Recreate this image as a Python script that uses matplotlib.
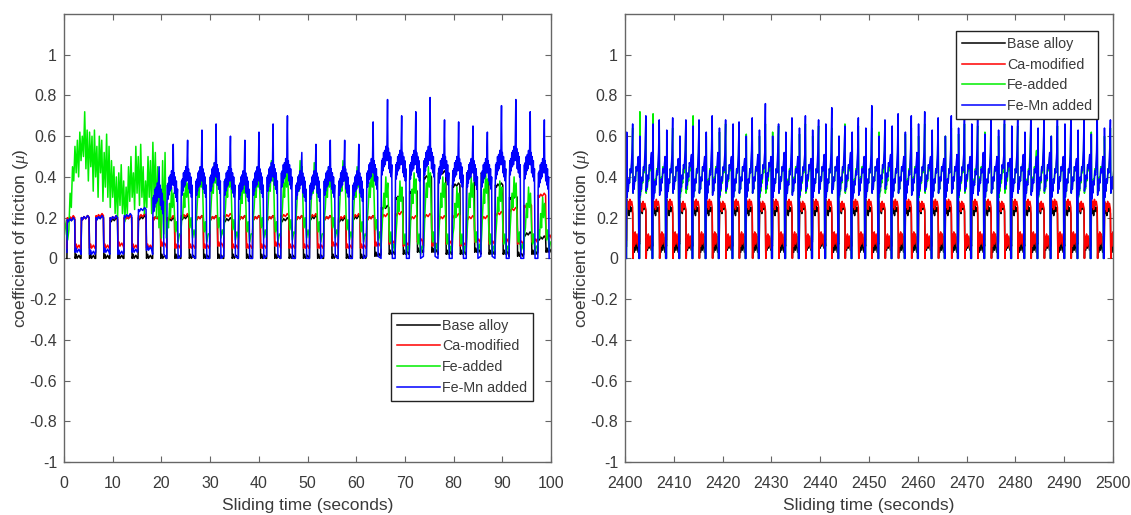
import numpy as np
import matplotlib
matplotlib.use("Agg")
import matplotlib.pyplot as plt

plt.rcParams['font.family'] = ['Liberation Sans', 'DejaVu Sans']
plt.rcParams['mathtext.fontset'] = 'custom'
plt.rcParams['mathtext.it'] = 'Liberation Serif:italic'

# ---------------- data ----------------
LABELS = ["Base alloy", "Ca-modified", "Fe-added", "Fe-Mn added"]
COLORS = ["#000000", "#ff0000", "#00ee00", "#0000ff"]

# Left panel (0-100 s): start time of each sliding cycle
L_STARTS = [0.6, 3.5, 6.5, 9.4, 12.3, 15.2, 18.2, 21.1, 24.0, 27.0, 29.9, 32.8,
            35.8, 38.7, 41.6, 44.5, 47.5, 50.4, 53.3, 56.3, 59.2, 62.1, 65.1,
            68.0, 70.9, 73.8, 76.8, 79.7, 82.6, 85.6, 88.5, 91.4, 94.4, 97.3, 100.2]

# Base alloy (left): per-cycle low / high levels
L_BASE_LO = [0.0]*21 + [0.01, 0.02, 0.02, 0.03, 0.03, 0.02, 0.02, 0.03, 0.02, 0.02, 0.01, 0.02, 0.03]
L_BASE_HI = [0.19, 0.2, 0.2, 0.19, 0.2, 0.2, 0.2, 0.19, 0.2, 0.2, 0.2, 0.19, 0.2, 0.2, 0.2,
             0.19, 0.2, 0.2, 0.2, 0.19, 0.2, 0.2, 0.25, 0.3, 0.33, 0.4, 0.42, 0.36, 0.42,
             0.42, 0.36, 0.3, 0.12, 0.1]
# Ca-modified (left)
L_CA_LO = [0.05, 0.05, 0.05, 0.06, 0.05, 0.05, 0.06, 0.05, 0.05, 0.05, 0.06, 0.05, 0.05,
           0.05, 0.06, 0.05, 0.05, 0.05, 0.06, 0.05, 0.05, 0.06, 0.07, 0.06, 0.08, 0.06,
           0.07, 0.06, 0.08, 0.07, 0.08, 0.07, 0.08, 0.1]
L_CA_HI = [0.2, 0.2, 0.21, 0.2, 0.2, 0.21, 0.2, 0.2, 0.21, 0.2, 0.2, 0.21, 0.2, 0.2, 0.2,
           0.21, 0.2, 0.21, 0.2, 0.2, 0.21, 0.2, 0.21, 0.22, 0.2, 0.21, 0.2, 0.21, 0.2,
           0.2, 0.22, 0.24, 0.26, 0.31]
# Fe-added (left): first 21 s read point by point (every 0.25 s), then per cycle
L_FE_EARLY = [0.20, 0.17, 0.12, 0.09, 0.14, 0.32, 0.25, 0.45, 0.38, 0.55, 0.42, 0.58,
              0.40, 0.62, 0.48, 0.60, 0.50, 0.72, 0.44, 0.63, 0.38, 0.62, 0.45, 0.60,
              0.33, 0.63, 0.40, 0.55, 0.30, 0.60, 0.42, 0.58, 0.28, 0.52, 0.35, 0.61,
              0.30, 0.55, 0.25, 0.48, 0.30, 0.45, 0.22, 0.40, 0.20, 0.42, 0.26, 0.46,
              0.22, 0.38, 0.18, 0.35, 0.22, 0.45, 0.28, 0.50, 0.30, 0.42, 0.24, 0.55,
              0.32, 0.50, 0.26, 0.56, 0.30, 0.45, 0.22, 0.38, 0.25, 0.50, 0.30, 0.48,
              0.22, 0.57, 0.30, 0.52, 0.20, 0.45, 0.15, 0.35, 0.10, 0.48, 0.12, 0.52, 0.10]
L_FE_LO = [0.08, 0.1, 0.08, 0.1, 0.09, 0.08, 0.1, 0.08, 0.09, 0.1, 0.08, 0.1, 0.09, 0.08,
           0.09, 0.03, 0.02, 0.02, 0.03, 0.02, 0.02, 0.03, 0.02, 0.02, 0.03, 0.02, 0.04]
L_FE_HI = [0.35, 0.4, 0.45, 0.47, 0.45, 0.42, 0.45, 0.48, 0.45, 0.48, 0.47, 0.45, 0.48,
           0.45, 0.45, 0.4, 0.38, 0.42, 0.45, 0.4, 0.35, 0.4, 0.42, 0.38, 0.4, 0.35, 0.3]
# Fe-Mn added (left): 6 square cycles, then saw-tooth cycles
L_FEMN_SQ_LO = [0.03, 0.02, 0.03, 0.02, 0.03, 0.04]
L_FEMN_SQ_HI = [0.19, 0.2, 0.2, 0.2, 0.21, 0.24]
L_FEMN_LO = [0.02, 0.0, 0.01, 0.0, 0.0, 0.01, 0.0, 0.0, 0.01, 0.0, 0.0, 0.0, 0.01, 0.0,
             0.0, 0.01, 0.0, 0.0, 0.0, 0.01, 0.0, 0.0, 0.0, 0.01, 0.0, 0.0, 0.0, 0.0]
L_FEMN_MID = [0.32, 0.38, 0.4, 0.4, 0.42, 0.4, 0.38, 0.4, 0.42, 0.44, 0.38, 0.38, 0.4, 0.4,
              0.38, 0.44, 0.5, 0.48, 0.48, 0.5, 0.46, 0.45, 0.44, 0.44, 0.48, 0.5, 0.48, 0.44]
L_FEMN_PK = [0.45, 0.56, 0.58, 0.63, 0.66, 0.6, 0.58, 0.62, 0.66, 0.7, 0.52, 0.56, 0.58,
             0.58, 0.56, 0.67, 0.78, 0.7, 0.72, 0.79, 0.68, 0.67, 0.65, 0.62, 0.75, 0.78,
             0.72, 0.68]

# Right panel (2400-2500 s)
R_STARTS = [2400.3, 2403.0, 2405.7, 2408.5, 2411.2, 2413.9, 2416.6, 2419.3, 2422.1,
            2424.8, 2427.5, 2430.2, 2432.9, 2435.7, 2438.4, 2441.1, 2443.8, 2446.5,
            2449.3, 2452.0, 2454.7, 2457.4, 2460.1, 2462.9, 2465.6, 2468.3, 2471.0,
            2473.7, 2476.5, 2479.2, 2481.9, 2484.6, 2487.3, 2490.1, 2492.8, 2495.5,
            2498.2, 2500.9]
R_BASE_LO = [0.06, 0.07, 0.06, 0.06, 0.07, 0.06, 0.06, 0.07, 0.06, 0.06, 0.07, 0.06, 0.06,
             0.07, 0.08, 0.06, 0.07, 0.06, 0.06, 0.07, 0.06, 0.06, 0.07, 0.06, 0.06, 0.07,
             0.06, 0.06, 0.07, 0.06, 0.06, 0.07, 0.06, 0.06, 0.07, 0.06, 0.06]
R_BASE_HI = [0.24, 0.25, 0.24, 0.24, 0.25, 0.24, 0.24, 0.25, 0.24, 0.24, 0.25, 0.24, 0.24,
             0.25, 0.24, 0.24, 0.25, 0.24, 0.24, 0.25, 0.24, 0.24, 0.25, 0.24, 0.24, 0.25,
             0.24, 0.24, 0.25, 0.24, 0.24, 0.25, 0.24, 0.24, 0.25, 0.24, 0.24]
R_CA_LO = [0.09, 0.08, 0.09, 0.09, 0.08, 0.09, 0.09, 0.08, 0.09, 0.09, 0.08, 0.09, 0.09,
           0.08, 0.09, 0.09, 0.08, 0.09, 0.09, 0.08, 0.09, 0.09, 0.08, 0.09, 0.09, 0.08,
           0.09, 0.09, 0.08, 0.09, 0.09, 0.08, 0.09, 0.09, 0.08, 0.09, 0.09]
R_CA_HI = [0.27, 0.26, 0.27, 0.27, 0.26, 0.27, 0.27, 0.26, 0.27, 0.27, 0.26, 0.27, 0.27,
           0.26, 0.27, 0.27, 0.26, 0.27, 0.27, 0.26, 0.27, 0.27, 0.26, 0.27, 0.27, 0.26,
           0.27, 0.27, 0.26, 0.27, 0.27, 0.26, 0.27, 0.27, 0.26, 0.27, 0.26]
R_FE_SP = [0.6, 0.72, 0.71, 0.62, 0.6, 0.7, 0.6, 0.62, 0.6, 0.61, 0.6, 0.62, 0.6, 0.61,
           0.6, 0.62, 0.6, 0.61, 0.6, 0.62, 0.6, 0.61, 0.6, 0.62, 0.6, 0.61, 0.6, 0.62,
           0.6, 0.61, 0.6, 0.62, 0.6, 0.61, 0.6, 0.62, 0.6]
R_FE_R0 = [0.3]*37
R_FE_R1 = [0.48, 0.49, 0.48, 0.49, 0.48, 0.49, 0.48, 0.49, 0.48, 0.49, 0.48, 0.49, 0.48,
           0.49, 0.48, 0.49, 0.48, 0.49, 0.48, 0.49, 0.48, 0.49, 0.48, 0.49, 0.48, 0.49,
           0.48, 0.49, 0.48, 0.52, 0.55, 0.52, 0.49, 0.48, 0.49, 0.48, 0.49]
R_FE_PK = [0.64, 0.66, 0.65, 0.64, 0.66, 0.65, 0.64, 0.66, 0.65, 0.64, 0.66, 0.65, 0.64,
           0.66, 0.65, 0.64, 0.66, 0.65, 0.64, 0.66, 0.65, 0.64, 0.66, 0.65, 0.64, 0.66,
           0.65, 0.64, 0.66, 0.65, 0.64, 0.66, 0.65, 0.64, 0.66, 0.65, 0.64]
R_FEMN_SP = [0.62, 0.6, 0.66, 0.63, 0.6, 0.65, 0.62, 0.64, 0.66, 0.6, 0.63, 0.6, 0.62,
             0.64, 0.63, 0.66, 0.6, 0.62, 0.64, 0.6, 0.65, 0.62, 0.66, 0.63, 0.6, 0.64,
             0.66, 0.61, 0.63, 0.65, 0.62, 0.64, 0.6, 0.66, 0.63, 0.61, 0.64]
R_FEMN_R0 = [0.3, 0.31, 0.29, 0.3, 0.32, 0.3, 0.29, 0.31, 0.3, 0.3, 0.32, 0.3, 0.29, 0.31,
             0.3, 0.3, 0.31, 0.29, 0.3, 0.32, 0.3, 0.29, 0.31, 0.3, 0.3, 0.31, 0.29, 0.3,
             0.32, 0.3, 0.29, 0.31, 0.3, 0.3, 0.31, 0.29, 0.3]
R_FEMN_R1 = [0.52, 0.54, 0.52, 0.51, 0.53, 0.52, 0.54, 0.52, 0.51, 0.53, 0.52, 0.54, 0.52,
             0.51, 0.53, 0.52, 0.54, 0.52, 0.51, 0.53, 0.52, 0.54, 0.52, 0.51, 0.53, 0.52,
             0.54, 0.52, 0.51, 0.53, 0.52, 0.54, 0.52, 0.51, 0.53, 0.52, 0.54]
R_FEMN_PK = [0.66, 0.70, 0.68, 0.69, 0.68, 0.68, 0.70, 0.68, 0.67, 0.69, 0.76, 0.66, 0.69,
             0.70, 0.68, 0.74, 0.65, 0.69, 0.75, 0.68, 0.71, 0.70, 0.72, 0.69, 0.70, 0.76,
             0.71, 0.70, 0.72, 0.68, 0.71, 0.70, 0.73, 0.69, 0.70, 0.72, 0.68]

# ---------------- cycle shapes (phase, level name, small offset) ----------------
SQUARE = [(0.00, 'lo', 0), (0.03, 'hi', 0.0), (0.10, 'hi', -0.01), (0.20, 'hi', 0.005),
          (0.32, 'hi', -0.005), (0.45, 'hi', 0.01), (0.55, 'hi', 0.0), (0.58, 'lo', 0.0),
          (0.66, 'lo', 0.02), (0.72, 'lo', 0.0), (0.85, 'lo', 0.015), (0.95, 'lo', 0.0)]
SAW_L = [(0.00, 'lo', 0), (0.02, 'mid', -0.1), (0.05, 'mid', -0.02), (0.08, 'mid', -0.09),
         (0.11, 'mid', -0.01), (0.14, 'mid', -0.07), (0.18, 'mid', 0.02), (0.22, 'mid', -0.05),
         (0.26, 'mid', 0.03), (0.30, 'mid', -0.04), (0.34, 'mid', 0.05), (0.38, 'mid', -0.02),
         (0.42, 'mid', 0.06), (0.46, 'pk', 0), (0.49, 'mid', -0.02), (0.52, 'mid', 0.04),
         (0.56, 'mid', -0.06), (0.60, 'mid', 0.02), (0.64, 'mid', -0.08), (0.68, 'mid', 0.0),
         (0.72, 'mid', -0.1), (0.76, 'mid', -0.04), (0.80, 'lo', 0.0)]
GREEN_L = [(0.0, 'lo', 0.02), (0.06, 'lo', 0.1), (0.12, 'hi', -0.2), (0.2, 'hi', -0.08),
           (0.26, 'hi', -0.15), (0.34, 'hi', 0.0), (0.4, 'hi', -0.1), (0.48, 'hi', -0.03),
           (0.56, 'lo', 0.12), (0.62, 'lo', 0.05), (0.7, 'lo', 0.1), (0.8, 'lo', 0.0),
           (0.9, 'lo', 0.04)]
SQUARE_R = [(0.00, 'lo', 0.0), (0.03, 'hi', 0.02), (0.08, 'hi', -0.02), (0.14, 'hi', 0.01),
            (0.2, 'hi', -0.03), (0.26, 'hi', 0.02), (0.32, 'hi', -0.01), (0.4, 'hi', 0.01),
            (0.47, 'hi', -0.02), (0.5, 'z', 0.0), (0.53, 'lo', 0.03), (0.6, 'lo', -0.03),
            (0.66, 'lo', 0.04), (0.72, 'lo', -0.02), (0.8, 'lo', 0.03), (0.88, 'lo', -0.03),
            (0.95, 'lo', 0.02)]
SAW_R = [(0.00, 'z', 0.0), (0.02, 'sp', 0), (0.05, 'r0', 0), (0.09, 'r0', 0.06),
         (0.13, 'r0', 0.03), (0.18, 'r0', 0.09), (0.23, 'r0', 0.07), (0.29, 'r0', 0.14),
         (0.34, 'r0', 0.12), (0.42, 'r1', 0), (0.47, 'pk', 0), (0.50, 'r0', 0.02),
         (0.54, 'r0', 0.07), (0.58, 'r0', 0.04), (0.63, 'r0', 0.1), (0.68, 'r0', 0.08),
         (0.74, 'r0', 0.15), (0.80, 'r0', 0.13), (0.90, 'r1', -0.02), (0.94, 'z', 0.0)]


def build(starts, shape, levels):
    ts, ys = [], []
    for k in range(len(starts) - 1):
        a, b = starts[k], starts[k + 1]
        for ph, name, off in shape:
            ts.append(a + ph * (b - a))
            ys.append((0.0 if name == 'z' else levels[name][k]) + off)
    return ts, ys


# left panel series
lb = build(L_STARTS, SQUARE, {'lo': L_BASE_LO, 'hi': L_BASE_HI})
lc = build(L_STARTS, SQUARE, {'lo': L_CA_LO, 'hi': L_CA_HI})
fe_t0 = [0.25 * i for i in range(len(L_FE_EARLY))]
fe_c = build(L_STARTS[7:], GREEN_L, {'lo': L_FE_LO, 'hi': L_FE_HI})
lf = (fe_t0 + fe_c[0], L_FE_EARLY + fe_c[1])
m1 = build(L_STARTS[:7], SQUARE, {'lo': L_FEMN_SQ_LO, 'hi': L_FEMN_SQ_HI})
m2 = build(L_STARTS[6:], SAW_L, {'lo': L_FEMN_LO, 'mid': L_FEMN_MID, 'pk': L_FEMN_PK})
lm = (m1[0] + m2[0], m1[1] + m2[1])

rb = build(R_STARTS, SQUARE_R, {'lo': R_BASE_LO, 'hi': R_BASE_HI})
rc = build(R_STARTS, SQUARE_R, {'lo': R_CA_LO, 'hi': R_CA_HI})
rf = build(R_STARTS, SAW_R, {'sp': R_FE_SP, 'r0': R_FE_R0, 'r1': R_FE_R1, 'pk': R_FE_PK})
rm = build(R_STARTS, SAW_R, {'sp': R_FEMN_SP, 'r0': R_FEMN_R0, 'r1': R_FEMN_R1, 'pk': R_FEMN_PK})

# ---------------- drawing ----------------
fig = plt.figure(figsize=(11.31, 5.15), dpi=100)
axL = fig.add_axes([64 / 1131, 1 - 462 / 515, 487 / 1131, 448 / 515])
axR = fig.add_axes([625 / 1131, 1 - 462 / 515, 488 / 1131, 448 / 515])

TXT = '#3a3a3a'
for ax, series, xlim, xt, leg_anchor in [
        (axL, [lb, lc, lf, lm], (0, 100), range(0, 101, 10), (0.963, 0.333)),
        (axR, [rb, rc, rf, rm], (2400, 2500), range(2400, 2501, 10), (0.969, 0.962))]:
    for (t, y), col, lab in zip(series, COLORS, LABELS):
        ax.plot(t, y, color=col, lw=1.1, label=lab)
    ax.set_xlim(*xlim)
    ax.set_ylim(-1, 1.2)
    ax.set_xticks(list(xt))
    ax.set_yticks([-1, -0.8, -0.6, -0.4, -0.2, 0, 0.2, 0.4, 0.6, 0.8, 1])
    ax.set_yticklabels(['-1', '-0.8', '-0.6', '-0.4', '-0.2', '0', '0.2', '0.4', '0.6', '0.8', '1'])
    ax.tick_params(direction='in', top=True, right=True, length=4, width=0.8,
                   colors='#666666', labelcolor=TXT, labelsize=11.5)
    ax.tick_params(axis='x', pad=10)
    ax.tick_params(axis='y', pad=5)
    for sp in ax.spines.values():
        sp.set_color('#666666')
        sp.set_linewidth(1.0)
    ax.set_xlabel('Sliding time (seconds)', fontsize=12.5, color=TXT, labelpad=5)
    ax.set_ylabel(r'coefficient of friction ($\mu$)', fontsize=12.5, color=TXT)
    ax.yaxis.set_label_coords(-0.068, 0.5)
    leg = ax.legend(loc='upper right', bbox_to_anchor=leg_anchor, fontsize=10.3,
                    handlelength=3.0, handletextpad=0.15, borderpad=0.4,
                    labelspacing=0.48, borderaxespad=0, fancybox=False,
                    framealpha=1, edgecolor='#222222')
    leg.get_frame().set_linewidth(1.0)
    for txt in leg.get_texts():
        txt.set_color(TXT)

fig.savefig('out.png', dpi=100, facecolor='white')
